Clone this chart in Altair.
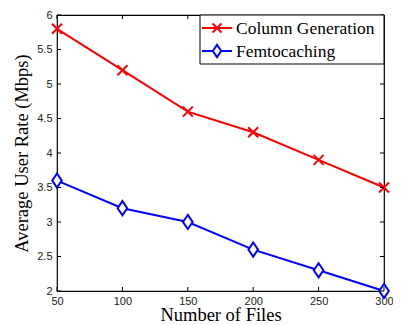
import altair as alt
import pandas as pd

files = [50, 100, 150, 200, 250, 300]
col_gen = [5.8, 5.2, 4.6, 4.3, 3.9, 3.5]
femto = [3.6, 3.2, 3.0, 2.6, 2.3, 2.0]
series_names = ["Column Generation", "Femtocaching"]
x_ticks = [50, 100, 150, 200, 250, 300]
y_ticks = [2, 2.5, 3, 3.5, 4, 4.5, 5, 5.5, 6]

W, H = 327, 276
RED = "#ff0000"
BLUE = "#0000ff"
XSHAPE = "M-1,-1L1,1M-1,1L1,-1"
DSHAPE = "M0,-1L0.68,0L0,1L-0.68,0Z"
SERIF = "Times New Roman, Liberation Serif, serif"
SANS = "Liberation Sans, Arial, sans-serif"

df = pd.DataFrame({
    "files": files * 2,
    "rate": col_gen + femto,
    "series": [series_names[0]] * 6 + [series_names[1]] * 6,
})

xs = alt.Scale(domain=[50, 300], nice=False, zero=False)
ys = alt.Scale(domain=[2, 6], nice=False, zero=False)

AX = alt.Axis(values=x_ticks, ticks=False, grid=False, domain=False, format="d",
              labelFont=SANS, labelFontSize=11, labelColor="#222",
              labelPadding=4, title="Number of Files", titleFont=SERIF,
              titleFontSize=18.5, titleFontWeight="normal", titleColor="#000",
              titlePadding=-1, labelFlush=False)
AY = alt.Axis(values=y_ticks, ticks=False, grid=False, domain=False, format="~g",
              labelFont=SANS, labelFontSize=11, labelColor="#222",
              labelPadding=5, title="Average User Rate (Mbps)", titleFont=SERIF,
              titleFontSize=18.5, titleFontWeight="normal", titleColor="#000",
              titlePadding=5, labelFlush=False)

cg = df[df.series == series_names[0]]
fc = df[df.series == series_names[1]]

def enc(ch):
    return ch.encode(
        x=alt.X("files:Q", scale=xs, axis=AX),
        y=alt.Y("rate:Q", scale=ys, axis=AY),
    )

line_cg = enc(alt.Chart(cg).mark_line(color=RED, strokeWidth=2))
pts_cg = enc(alt.Chart(cg).mark_point(shape=XSHAPE, color=RED, strokeWidth=2, size=100, filled=False, opacity=1))
line_fc = enc(alt.Chart(fc).mark_line(color=BLUE, strokeWidth=2))
pts_fc = enc(alt.Chart(fc).mark_point(shape=DSHAPE, color=BLUE, strokeWidth=2, size=200, filled=False,
                                      fill="white", fillOpacity=1, opacity=1))

xt = pd.DataFrame({"files": x_ticks})
yt = pd.DataFrame({"rate": y_ticks})
tick_layers = [
    alt.Chart(xt).mark_rule(color="black", strokeWidth=1).encode(
        x=alt.X("files:Q", scale=xs, axis=AX), y=alt.value(H), y2=alt.value(H - 4)),
    alt.Chart(xt).mark_rule(color="black", strokeWidth=1).encode(
        x=alt.X("files:Q", scale=xs, axis=AX), y=alt.value(0), y2=alt.value(4)),
    alt.Chart(yt).mark_rule(color="black", strokeWidth=1).encode(
        y=alt.Y("rate:Q", scale=ys, axis=AY), x=alt.value(0), x2=alt.value(4)),
    alt.Chart(yt).mark_rule(color="black", strokeWidth=1).encode(
        y=alt.Y("rate:Q", scale=ys, axis=AY), x=alt.value(W), x2=alt.value(W - 4)),
]

# Legend
leg_df = pd.DataFrame({"name": series_names})
legend_box = alt.Chart(leg_df.head(1)).mark_rect(fill="white", stroke="black", strokeWidth=1).encode(
    x=alt.value(143), x2=alt.value(W), y=alt.value(0), y2=alt.value(49))
legend_layers = [legend_box]
for i, (name, col, shp, sz) in enumerate([(series_names[0], RED, XSHAPE, 80), (series_names[1], BLUE, DSHAPE, 150)]):
    yy = 13 + i * 23
    d = leg_df[leg_df.name == name]
    legend_layers.append(alt.Chart(d).mark_rule(color=col, strokeWidth=2).encode(
        x=alt.value(145), x2=alt.value(175), y=alt.value(yy)))
    legend_layers.append(alt.Chart(d).mark_point(shape=shp, color=col, strokeWidth=2, size=sz, filled=False,
                                                 fill="white", fillOpacity=1 if i == 1 else 0, opacity=1).encode(
        x=alt.value(160), y=alt.value(yy)))
    legend_layers.append(alt.Chart(d).mark_text(align="left", baseline="middle", font=SERIF,
                                                fontSize=17.5, color="black").encode(
        x=alt.value(179), y=alt.value(yy + 1), text="name:N"))

chart = alt.layer(line_cg, line_fc, pts_cg, pts_fc, *tick_layers, *legend_layers).properties(
    width=W, height=H,
    autosize=alt.AutoSizeParams(type="none"),
    padding={"left": 49, "top": 7, "right": 9, "bottom": 34},
    background="white",
).configure_view(stroke="black", strokeWidth=1.2)

chart.save("out.html", embed_options={"renderer": "svg", "actions": False})
